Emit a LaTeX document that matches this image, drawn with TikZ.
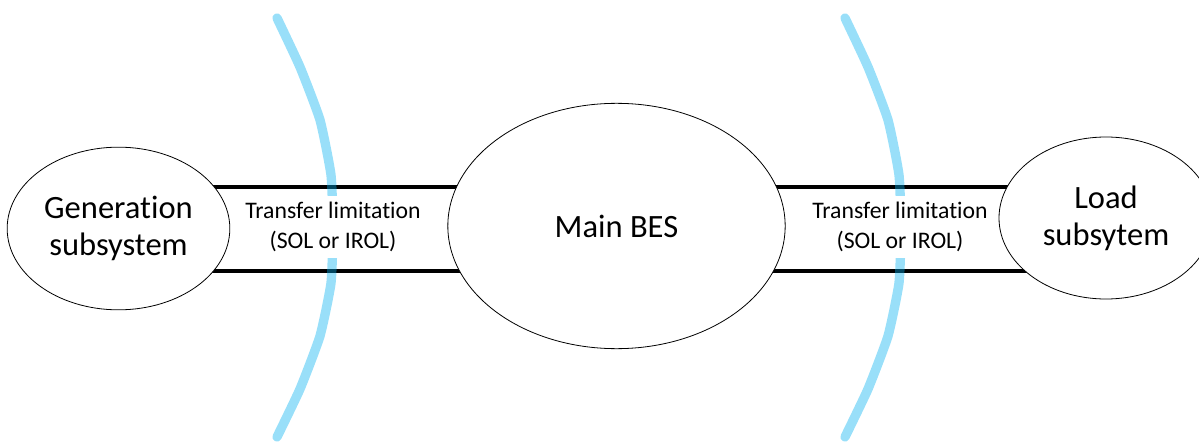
\documentclass[tikz,border=0pt]{standalone}
\usepackage{fontspec}
\setmainfont{Carlito}[Ligatures={NoCommon,NoContextual}]
\usepackage{xcolor}
\definecolor{cutblue}{HTML}{00B0F0}
\usepackage{tikz}
\usetikzlibrary{shapes.geometric, backgrounds}

\begin{document}
\begin{tikzpicture}[
  x=0.75pt, y=-0.75pt,
  sub/.style={ellipse, draw=black, line width=0.6pt, fill=white, inner sep=0pt,
              align=center, font=\fontsize{24.4}{28}\selectfont},
  lim/.style={rectangle, fill=white, inner sep=0pt, minimum height=47pt,
              align=center, font=\fontsize{17.8}{22.5}\selectfont},
  wire/.style={line width=3pt, black},
  cutset/.style={line width=7pt, cutblue, opacity=0.4, line cap=round, line join=round}
]
  \useasboundingbox (0,0) rectangle (1199,442);
  \node[sub, minimum width=167pt, minimum height=122pt] (gen) at (118.5,228.5) {Generation\\subsystem};
  \node[sub, minimum width=253pt, minimum height=184pt] (bes) at (616.5,226) {Main BES};
  \node[sub, minimum width=160.5pt, minimum height=121.5pt] (load) at (1106,218) {Load\\subsytem};
  \coordinate (upper) at (0,187);
  \coordinate (lower) at (0,271);
  \begin{scope}[on background layer]
    \draw[wire] (gen |- upper) -- (bes |- upper);
    \draw[wire] (gen |- lower) -- (bes |- lower);
    \draw[wire] (bes |- upper) -- (load |- upper);
    \draw[wire] (bes |- lower) -- (load |- lower);
  \end{scope}
  % cut lines
  \draw[cutset] plot[smooth, tension=0.3] coordinates {(277,18) (300,67) (320,120) (331,175) (333,229) (331,283) (320,336) (300,389) (277,437)};
  \draw[cutset] plot[smooth, tension=0.3] coordinates {(845,18) (868,67) (888,120) (899,175) (901,229) (899,283) (888,336) (868,389) (845,437)};
  \node[lim] (lim1) at (333,227) {Transfer limitation\\(SOL or IROL)};
  \node[lim] (lim2) at (900,227) {Transfer limitation\\(SOL or IROL)};
\end{tikzpicture}
\end{document}
